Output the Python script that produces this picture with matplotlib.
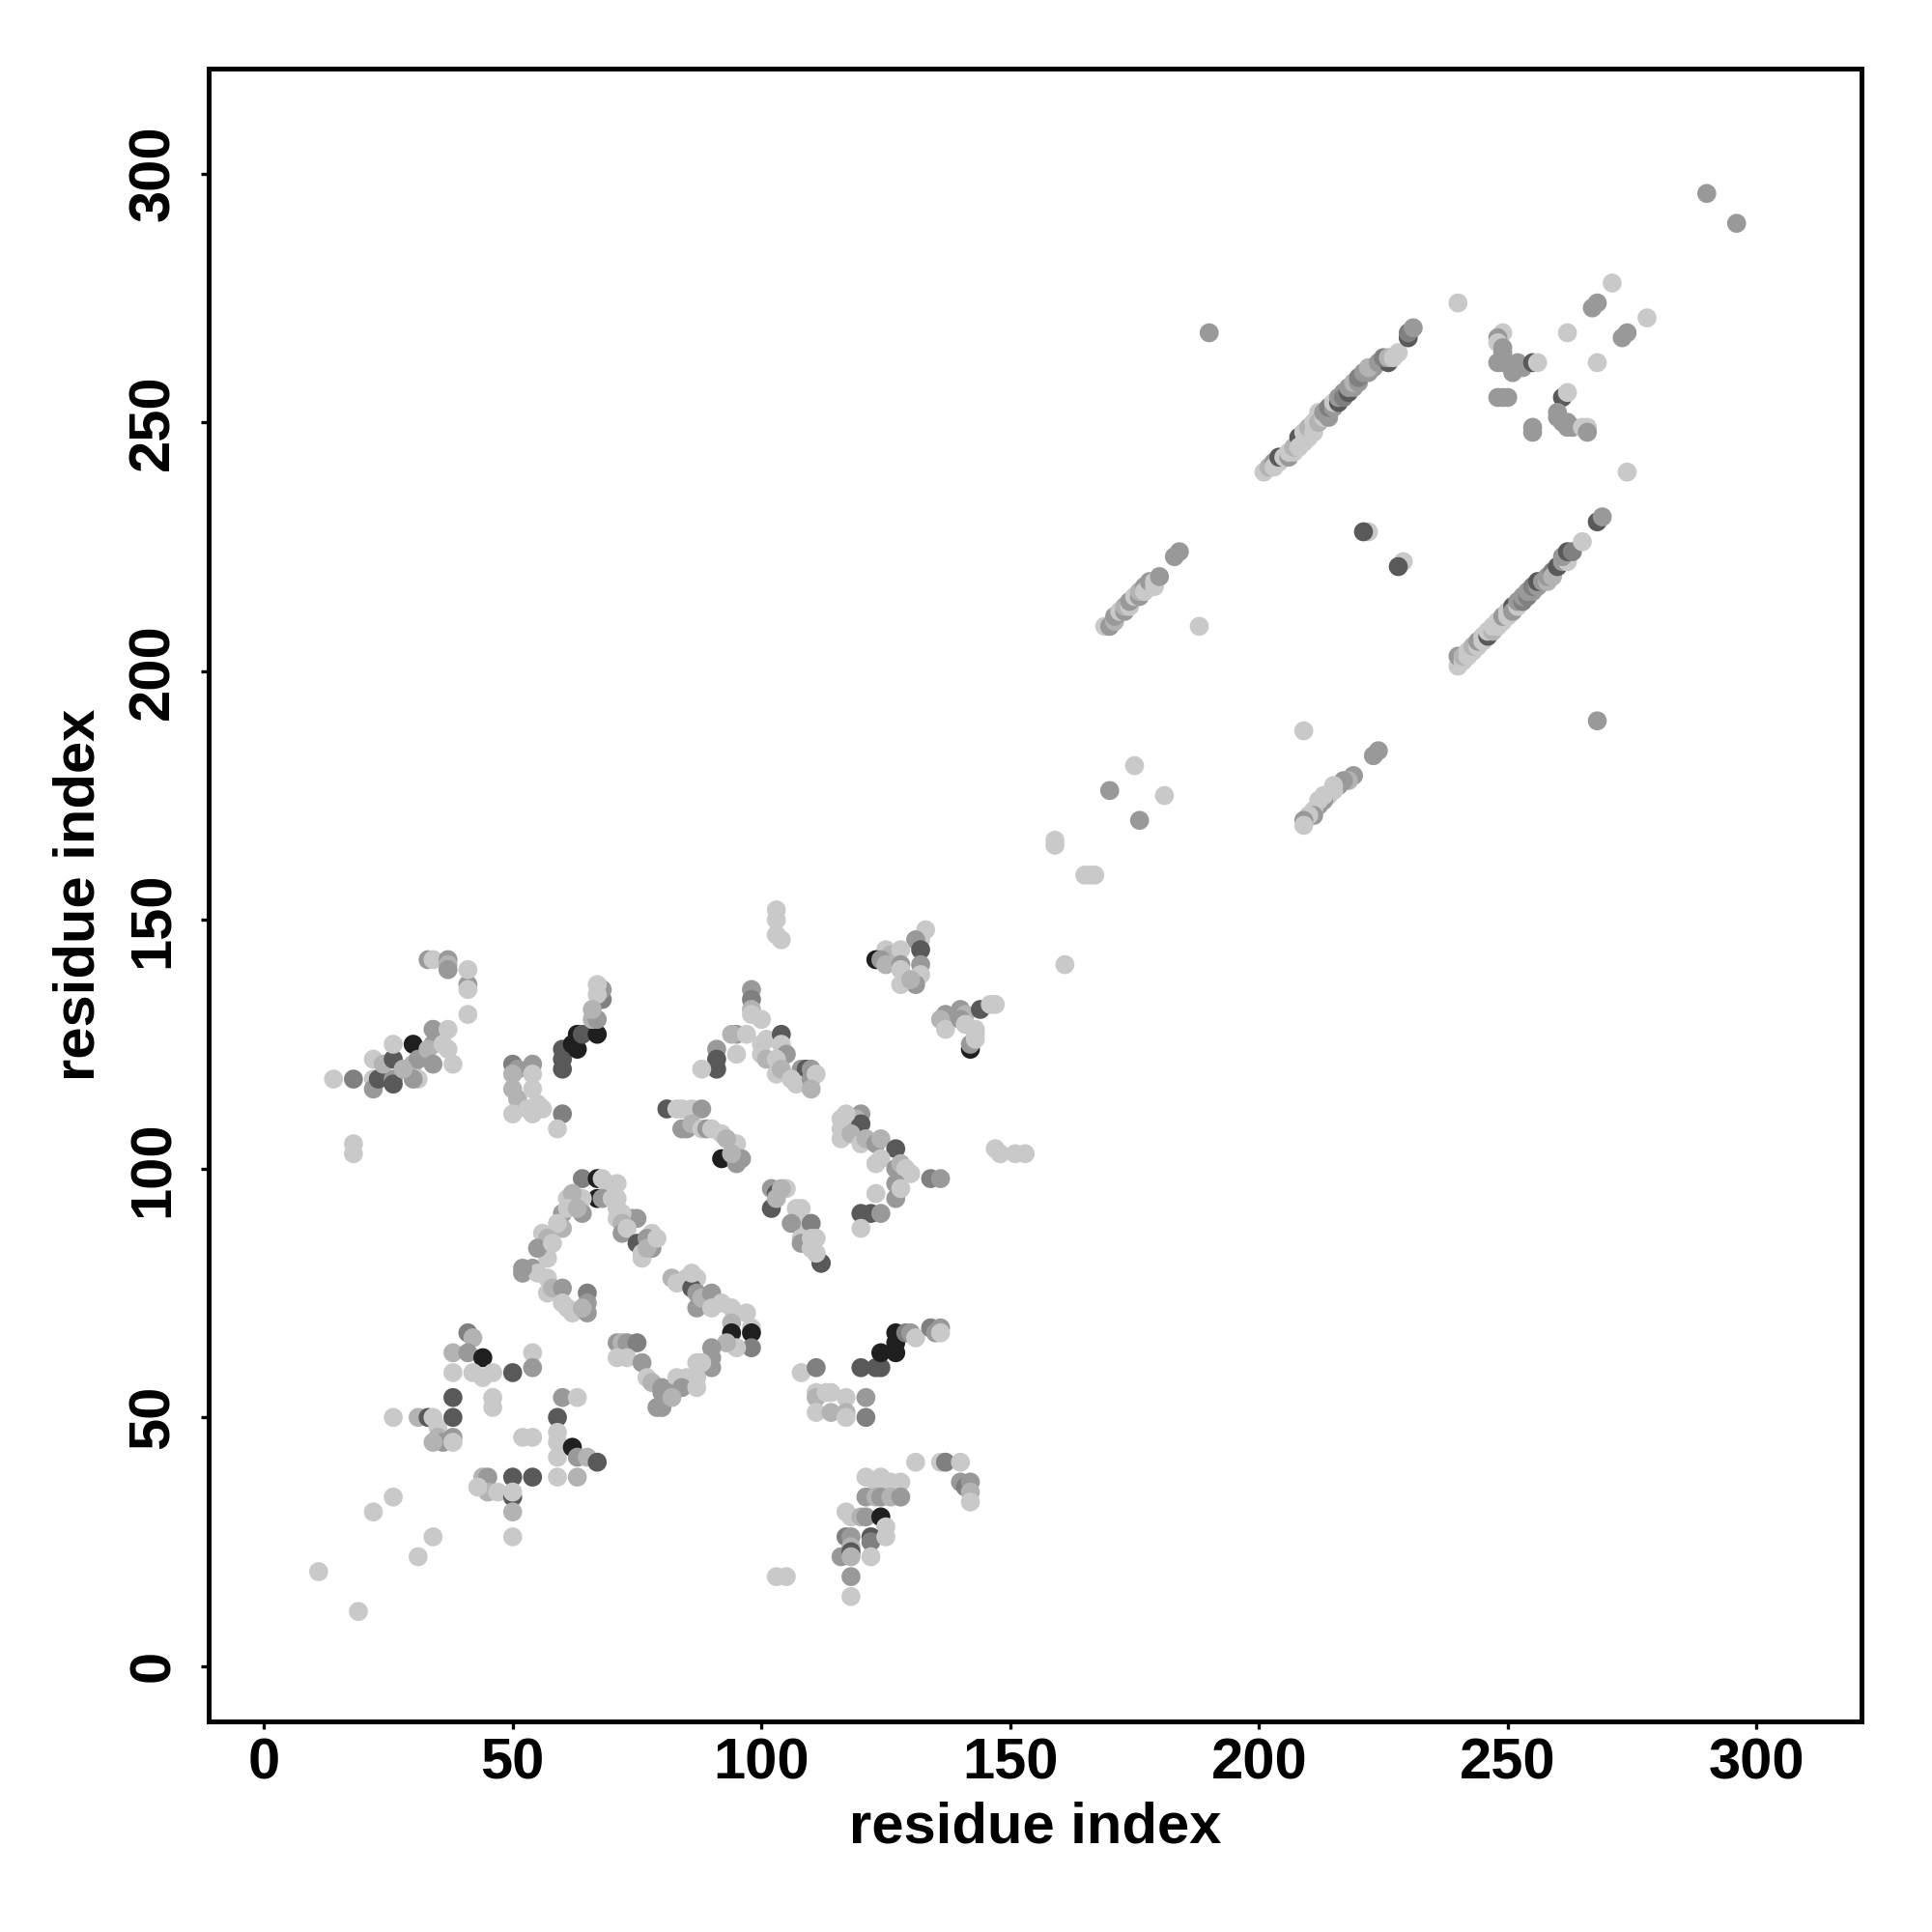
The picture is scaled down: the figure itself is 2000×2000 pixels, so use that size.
import matplotlib
matplotlib.use("Agg")
import matplotlib.pyplot as plt

# grey levels used for the contact points
L, ML, M, MD, D, K = 0.79, 0.70, 0.60, 0.50, 0.35, 0.12

# (residue i, residue j, grey), grouped by region
low_scatter = [
    (11, 19, L), (19, 11, L), (22, 31, L), (26, 34, L), (31, 22, L), (34, 26, L),
    (26, 50, L), (31, 50, ML), (33, 50, D), (34, 50, L), (35, 48, L), (35, 46, ML),
    (36, 45, M), (34, 45, ML), (38, 54, D), (38, 50, D), (38, 46, M), (38, 45, L),
    (38, 59, L), (38, 63, ML), (41, 67, MD), (42, 66, ML), (41, 63, M), (44, 62, K),
    (42, 59, L), (44, 58, L), (46, 59, L), (46, 54, L), (46, 52, L), (50, 59, D),
    (54, 63, L), (54, 60, M), (44, 38, ML), (45, 38, M), (45, 35, ML), (43, 36, L),
    (47, 35, L), (50, 38, D), (54, 38, D), (50, 34, D), (50, 35, L), (50, 31, ML),
    (50, 26, L), (52, 46, L), (54, 46, L), (60, 54, M), (63, 54, L), (59, 50, D),
    (59, 47, L), (59, 45, L), (59, 42, L), (62, 44, K), (63, 42, M), (63, 38, ML),
    (59, 38, L), (65, 42, ML), (67, 41, D),
    (71, 65, M), (72, 65, ML), (73, 65, M), (75, 65, MD), (71, 62, L), (73, 62, L),
    (76, 61, M), (77, 58, L), (78, 57, ML), (80, 55, M), (79, 52, M), (80, 56, M),
    (52, 79, M), (54, 80, M), (55, 79, L), (57, 78, L), (57, 75, L), (58, 76, ML),
    (60, 76, M), (60, 73, L), (61, 72, L), (62, 71, L), (65, 75, MD), (65, 73, M),
    (65, 71, M), (64, 72, ML), (57, 82, L), (76, 82, L),
]

v_region = [
    (112, 81, D), (82, 78, ML), (83, 77, L), (85, 78, L), (87, 78, L), (86, 76, D),
    (87, 75, M), (87, 72, M), (88, 74, ML), (90, 75, M), (90, 72, L), (92, 73, L),
    (94, 72, L), (97, 71, L), (94, 69, ML), (94, 67, K), (98, 68, L), (98, 67, K),
    (98, 64, MD), (95, 64, L), (93, 65, ML), (90, 64, M), (90, 62, M), (90, 60, M),
    (88, 61, L), (87, 61, L), (87, 58, L), (85, 58, L), (83, 58, L), (84, 56, M),
    (80, 52, M), (81, 55, M), (87, 56, L), (82, 54, ML),
    (108, 59, L), (111, 60, MD), (111, 55, L), (111, 54, ML), (113, 55, L),
    (114, 55, L), (117, 54, L), (121, 54, M), (111, 51, L), (114, 51, ML),
    (117, 51, ML), (117, 50, L), (121, 50, MD),
    (120, 60, D), (123, 60, D), (124, 60, D), (124, 63, K), (127, 63, K), (127, 65, K),
    (127, 67, K), (129, 67, MD), (130, 67, M), (131, 66, L), (134, 68, MD),
    (135, 67, M), (136, 68, M), (136, 67, L),
    (131, 41, L), (136, 41, L), (137, 41, MD), (140, 41, L), (140, 37, M),
    (141, 36, MD), (142, 37, M), (142, 35, ML), (142, 33, L),
    (121, 38, L), (123, 37, L), (124, 38, L), (124, 37, L), (126, 37, L), (128, 37, L),
    (121, 34, M), (123, 34, ML), (124, 34, M), (126, 34, ML), (128, 34, M),
    (117, 31, L), (118, 30, L), (120, 30, ML), (121, 30, M), (124, 30, K), (125, 28, L),
    (117, 26, MD), (118, 26, M), (118, 24, ML), (122, 26, D), (122, 25, MD),
    (125, 26, L), (116, 22, M), (118, 23, D), (118, 22, ML), (122, 22, L),
    (118, 18, M), (118, 14, L), (103, 18, L), (105, 18, L),
]

mid_left = [
    (14, 118, L), (18, 118, MD), (22, 118, L), (22, 116, M), (23, 118, D),
    (26, 118, M), (26, 117, D), (22, 122, L), (24, 121, ML), (26, 122, D),
    (26, 125, L), (30, 125, K), (30, 121, ML), (31, 122, M), (31, 118, L),
    (30, 118, M), (28, 120, ML), (34, 128, M), (34, 125, M), (33, 124, ML),
    (34, 121, M), (37, 128, L), (37, 124, L), (36, 125, L), (38, 121, L),
    (41, 131, L), (41, 137, M), (41, 136, L), (41, 140, L), (33, 142, M),
    (34, 142, L), (37, 142, M), (37, 141, ML), (37, 140, M), (18, 105, L), (18, 103, L),
    (50, 121, MD), (51, 120, M), (54, 121, M), (50, 119, ML), (50, 116, ML),
    (51, 114, ML), (50, 111, L), (54, 116, L), (54, 119, L), (55, 113, L),
    (54, 111, L), (56, 112, L), (53, 112, L), (60, 111, MD), (59, 108, L),
    (60, 124, D), (60, 122, D), (60, 120, D), (63, 124, K), (62, 125, K), (63, 127, K),
    (64, 127, D), (67, 127, K), (66, 130, ML), (67, 130, M), (68, 134, MD),
    (68, 136, M), (67, 137, L), (67, 135, L), (66, 132, ML),
]

arch = [
    (64, 98, MD), (67, 98, K), (68, 98, L), (69, 97, L), (71, 97, L), (67, 94, K),
    (68, 94, M), (70, 94, L), (71, 94, L), (61, 94, L), (64, 94, L), (62, 95, ML),
    (60, 91, M), (61, 92, L), (64, 91, M), (63, 92, ML), (60, 88, ML), (59, 89, L),
    (56, 87, L), (57, 86, ML), (57, 84, L), (55, 84, M), (58, 85, L), (74, 90, M),
    (75, 90, M), (72, 91, L), (71, 92, L), (71, 90, L), (72, 89, ML), (72, 87, M),
    (73, 88, L), (78, 87, L), (75, 85, D), (77, 86, M), (78, 84, M), (76, 83, L),
    (77, 84, ML), (52, 80, M), (79, 86, L), (86, 79, L),
]

mid_right = [
    (103, 152, L), (103, 150, L), (103, 147, L), (104, 146, L),
    (133, 148, L), (132, 146, L), (131, 146, M), (132, 144, D), (125, 144, L),
    (126, 143, ML), (128, 144, L), (123, 142, K), (124, 142, M), (125, 141, ML),
    (128, 141, M), (128, 140, L), (132, 141, M), (132, 139, L), (131, 137, M),
    (128, 137, L), (130, 138, ML),
    (137, 131, M), (136, 130, ML), (140, 132, M), (141, 131, ML), (144, 132, D),
    (146, 133, L), (147, 133, L), (137, 128, L), (140, 130, M), (141, 129, L),
    (143, 128, L), (142, 124, K), (142, 125, M), (143, 126, L), (143, 127, L),
    (98, 136, M), (98, 134, MD), (98, 132, ML), (98, 131, L), (100, 130, L),
    (95, 127, M), (94, 127, ML), (97, 127, L), (101, 126, L), (100, 125, L),
    (104, 127, D), (104, 125, L), (91, 124, M), (91, 122, D), (91, 120, D),
    (88, 120, L), (95, 123, L), (100, 123, L), (101, 122, ML), (105, 123, M),
    (103, 122, L), (103, 119, L), (104, 120, ML), (108, 120, M), (109, 120, D),
    (110, 120, M), (106, 118, L), (107, 117, L), (110, 118, M), (111, 119, L),
    (110, 116, ML),
    (81, 112, D), (83, 112, L), (84, 112, L), (86, 112, L), (88, 112, M),
    (84, 108, M), (85, 108, M), (86, 109, ML), (88, 108, L), (89, 108, M),
    (90, 108, L), (92, 107, L), (92, 102, K), (95, 105, L), (93, 106, ML),
    (96, 102, M), (95, 101, M), (94, 103, ML),
    (120, 111, M), (119, 110, ML), (120, 109, D), (116, 110, L), (117, 111, L),
    (116, 108, L), (116, 106, L), (118, 107, ML), (120, 105, L), (121, 106, ML),
    (123, 105, M), (124, 106, ML), (127, 104, D), (123, 101, L), (124, 102, L),
    (127, 100, M), (128, 101, ML), (130, 99, L), (129, 100, L), (127, 97, M),
    (127, 94, M), (128, 96, L), (134, 98, MD), (136, 98, M), (123, 95, L),
    (120, 91, D), (122, 91, D), (124, 91, M), (120, 88, L),
    (147, 104, L), (148, 103, L), (151, 103, L), (153, 103, L),
    (102, 96, M), (103, 95, D), (105, 96, L), (104, 96, ML), (102, 92, D),
    (103, 94, ML), (107, 92, L), (108, 92, L), (108, 89, L), (106, 89, M),
    (110, 89, MD), (108, 86, L), (108, 85, M), (110, 86, L), (111, 86, L),
    (110, 84, L), (112, 81, D), (111, 83, L),
]

diag_mid = [
    (169, 209, L), (170, 209, M), (171, 210, ML), (171, 211, M), (172, 212, L),
    (173, 212, M), (173, 213, ML), (174, 213, L), (174, 214, M), (175, 215, L),
    (176, 215, M), (176, 216, ML), (177, 217, M), (177, 216, L), (178, 218, M),
    (179, 218, L), (179, 217, L), (180, 219, M), (183, 223, M), (184, 224, M),
    (188, 209, L), (209, 188, L), (223, 183, M), (224, 184, M),
    (219, 179, M), (218, 178, ML), (217, 178, M), (216, 177, M), (215, 177, L),
    (215, 176, L), (214, 175, L), (213, 174, M), (213, 175, L), (212, 173, M),
    (212, 174, L), (211, 172, L), (211, 171, M), (210, 171, L), (209, 170, M),
    (209, 169, L),
    (175, 181, L), (170, 176, M), (181, 175, L), (176, 170, M),
    (159, 166, L), (159, 165, L), (165, 159, L), (166, 159, L), (167, 159, L),
    (161, 141, L),
]

band_upper = [
    (190, 268, M),
    (201, 240, L), (202, 241, ML), (203, 242, M), (203, 241, L), (204, 242, L),
    (204, 243, D), (205, 243, L), (206, 243, M), (206, 244, L), (207, 244, L),
    (207, 245, ML), (208, 247, D), (208, 245, L), (209, 246, L), (209, 248, L),
    (210, 247, L), (210, 249, ML), (211, 250, L), (211, 248, L), (212, 252, L),
    (212, 250, ML), (213, 251, L), (213, 252, M), (214, 251, M), (214, 253, MD),
    (215, 253, M), (215, 254, L), (216, 254, D), (216, 255, M), (217, 256, M),
    (217, 255, MD), (218, 256, D), (218, 257, M), (219, 257, M), (219, 258, ML),
    (220, 258, M), (220, 259, MD), (221, 260, M), (222, 260, M), (223, 261, M),
    (222, 261, ML), (224, 262, M), (226, 262, D), (225, 263, MD), (226, 263, ML),
    (227, 263, L), (228, 264, L), (230, 267, D), (230, 268, MD), (231, 269, M),
    (222, 228, L), (221, 228, D), (229, 222, L), (228, 221, D),
]

top_right = [
    (290, 296, M), (296, 290, M), (240, 274, L), (271, 278, L), (267, 273, M),
    (268, 274, M), (278, 271, L), (273, 267, M), (274, 268, M), (262, 268, L),
    (268, 262, L), (249, 268, L), (248, 267, M), (248, 266, L), (249, 264, M),
    (249, 265, M), (248, 262, M), (249, 262, M), (251, 261, M), (251, 260, M),
    (252, 262, M), (253, 261, M), (255, 262, D), (256, 262, L),
    (248, 255, M), (249, 255, M), (250, 255, M), (255, 249, M), (255, 248, M),
    (261, 255, D), (262, 256, L), (260, 252, M), (260, 251, M), (261, 250, M),
    (262, 250, M), (262, 249, M), (263, 249, M), (265, 249, L), (266, 249, L),
    (266, 248, M), (274, 240, L), (268, 190, M),
]

band_lower = [
    (240, 201, L), (240, 203, M), (241, 202, L), (241, 203, ML), (242, 203, L),
    (242, 204, L), (243, 204, L), (243, 205, ML), (244, 205, L), (244, 206, M),
    (245, 206, L), (245, 207, L), (246, 207, D), (246, 208, L), (247, 208, ML),
    (247, 209, L), (248, 209, L), (248, 210, L), (249, 210, L), (249, 211, M),
    (250, 211, L), (250, 212, L), (251, 213, D), (251, 212, M), (252, 213, L),
    (252, 214, M), (253, 214, MD), (253, 215, M), (254, 215, MD), (254, 216, M),
    (255, 216, M), (255, 217, MD), (256, 217, M), (256, 218, D), (257, 218, M),
    (258, 218, ML), (258, 219, M), (259, 220, MD), (259, 219, ML), (260, 221, D),
    (261, 222, M), (262, 222, L), (261, 223, M), (262, 224, D), (263, 224, MD),
    (265, 226, L), (268, 230, D), (269, 231, M),
]

regions = [low_scatter, v_region, mid_left, arch, mid_right,
           diag_mid, band_upper, top_right, band_lower]

ticks = [0, 50, 100, 150, 200, 250, 300]

plt.rcParams['font.family'] = ['Liberation Sans', 'DejaVu Sans']
plt.rcParams['font.weight'] = 'bold'

fig = plt.figure(figsize=(10, 10), dpi=200)
ax = fig.add_axes([0.108, 0.109, 0.8555, 0.8555])

for reg in regions:
    xs = [p[0] for p in reg]
    ys = [p[1] for p in reg]
    cs = [(p[2], p[2], p[2]) for p in reg]
    ax.scatter(xs, ys, c=cs, s=50, linewidths=0, zorder=2)

ax.set_xlim(-11.1, 321.1)
ax.set_ylim(-11.1, 321.1)
ax.set_xticks(ticks)
ax.set_yticks(ticks)
ax.set_xticklabels([str(t) for t in ticks], fontsize=21.5, fontweight='bold')
ax.set_yticklabels([str(t) for t in ticks], fontsize=21.5, fontweight='bold',
                   rotation=90, va='center')
ax.tick_params(axis='both', length=3, width=1.2, direction='out')
ax.tick_params(axis='x', pad=3)
ax.tick_params(axis='y', pad=7.5)
for sp in ax.spines.values():
    sp.set_linewidth(1.8)

ax.set_xlabel("residue index", fontsize=21.5, fontweight='bold', labelpad=4)
ax.set_ylabel("residue index", fontsize=21.5, fontweight='bold', labelpad=8)

fig.savefig("out.png", dpi=200)
